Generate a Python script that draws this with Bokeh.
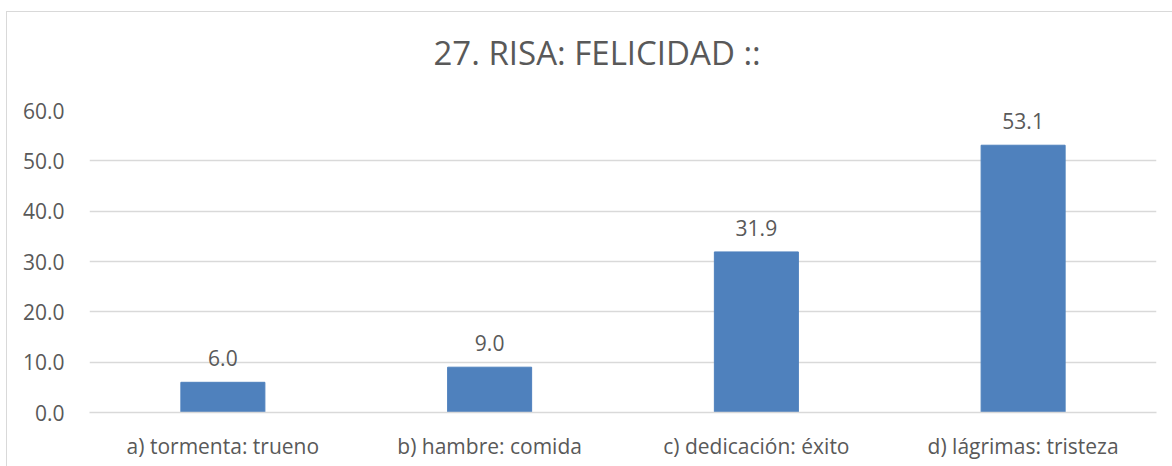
from bokeh.plotting import figure
from bokeh.models import ColumnDataSource, FixedTicker, PrintfTickFormatter, Title
from bokeh.core.properties import value
from bokeh.embed import file_html
from bokeh.resources import INLINE

categories = ["a) tormenta: trueno", "b) hambre: comida", "c) dedicación: éxito", "d) lágrimas: tristeza"]
values = [6.0, 9.0, 31.9, 53.1]
labels = ["6.0", "9.0", "31.9", "53.1"]
y_ticks = [0, 10, 20, 30, 40, 50, 60]
title_text = "27. RISA: FELICIDAD ::"

FONT = "Open Sans"
TXT = "#595959"
GRID = "#D9D9D9"

src = ColumnDataSource(dict(cat=categories, val=values, lab=labels))

p = figure(x_range=categories, y_range=(0, 60), width=1166, height=455,
           output_backend="svg", toolbar_location=None,
           min_border_left=82, min_border_right=17, min_border_top=98, min_border_bottom=55)
p.styles = {"border-left": "1px solid #D9D9D9", "border-top": "1px solid #D9D9D9",
            "margin-top": "11px", "margin-left": "6px"}

# empty spacer between the title and the plot area
p.add_layout(Title(text=" ", text_font_size="1px", standoff=28), "above")

p.title.text = title_text
p.title.text_font = FONT
p.title.text_font_size = "33px"
p.title.text_font_style = "normal"
p.title.text_color = TXT
p.title.align = "left"
p.title.offset = 344
p.title.standoff = 10

p.vbar(x="cat", top="val", width=0.315, source=src, fill_color="#4F81BD", line_color="#4F81BD")
p.text(x="cat", y="val", text="lab", source=src, text_align="center", text_baseline="middle",
       y_offset=-24, text_font=value(FONT), text_font_size="21px", text_color=TXT)

p.outline_line_color = None
p.xgrid.grid_line_color = None
p.ygrid.grid_line_color = GRID
p.ygrid.grid_line_width = 1.5
p.ygrid.ticker = FixedTicker(ticks=y_ticks)

p.yaxis.ticker = FixedTicker(ticks=y_ticks)
p.yaxis.formatter = PrintfTickFormatter(format="%.1f")
p.yaxis.axis_line_color = None
p.yaxis.major_tick_line_color = None
p.yaxis.minor_tick_line_color = None
p.yaxis.major_label_standoff = 19
p.yaxis.major_label_text_font = FONT
p.yaxis.major_label_text_font_size = "21px"
p.yaxis.major_label_text_color = TXT

p.xaxis.axis_line_color = GRID
p.xaxis.axis_line_width = 1.5
p.xaxis.major_tick_line_color = None
p.xaxis.minor_tick_line_color = None
p.xaxis.major_label_standoff = 13
p.xaxis.major_label_text_font = FONT
p.xaxis.major_label_text_font_size = "21px"
p.xaxis.major_label_text_color = TXT

p.x_range.range_padding = 0

open("out.html", "w").write(file_html(p, INLINE))
